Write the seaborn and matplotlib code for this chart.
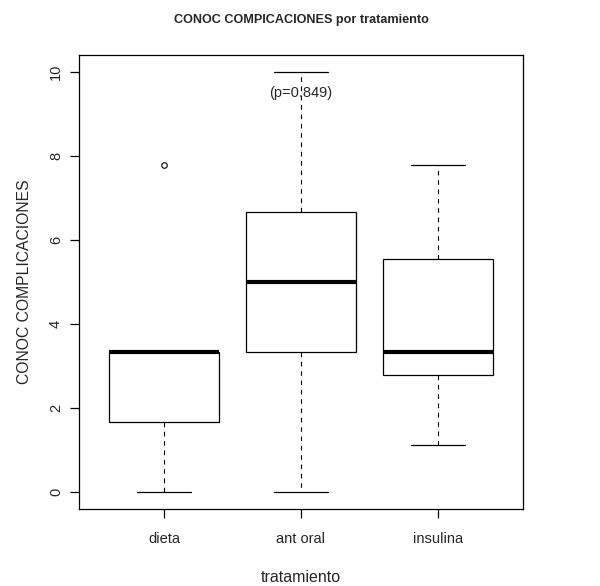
import matplotlib
matplotlib.use("Agg")
import matplotlib.pyplot as plt
import pandas as pd
import seaborn as sns

tratamientos = ["dieta", "ant oral", "insulina"]
dieta = [0.0, 1.667, 1.667, 3.333, 3.333, 3.333, 3.333, 7.778]
ant_oral = [0.0, 1.667, 3.333, 4.444, 5.0, 5.556, 6.667, 8.333, 10.0]
insulina = [1.111, 2.222, 2.778, 3.333, 3.333, 4.444, 5.556, 6.667, 7.778]
y_ticks = [0, 2, 4, 6, 8, 10]
p_valor = 0.849

df = pd.DataFrame({
    "tratamiento": ["dieta"] * len(dieta) + ["ant oral"] * len(ant_oral) + ["insulina"] * len(insulina),
    "conoc": dieta + ant_oral + insulina,
})

sns.set_style("ticks")
plt.rcParams["font.family"] = ["Liberation Sans", "DejaVu Sans"]
plt.rcParams["axes.linewidth"] = 0.9

fig = plt.figure(figsize=(6.0, 5.86), dpi=100)
ax = fig.add_axes([79 / 600, 1 - 509 / 586, 444 / 600, 454 / 586])

sns.boxplot(
    data=df, x="tratamiento", y="conoc", order=tratamientos, ax=ax,
    width=0.8, whis=1.5, color="white", linecolor="black", linewidth=0.9,
    medianprops={"linewidth": 3.0, "color": "black"},
    whiskerprops={"linestyle": (0, (4.2, 4.2)), "linewidth": 0.8},
    flierprops={"marker": "o", "markersize": 4, "markerfacecolor": "none",
                "markeredgecolor": "black", "markeredgewidth": 0.8},
)

ax.text(1, 9.5, f"(p={p_valor})", ha="center", va="center", fontsize=10.5)

ax.set_xlim(-0.62, 2.62)
ax.set_ylim(-0.4, 10.4)
ax.set_yticks(y_ticks)
ax.set_yticklabels([str(t) for t in y_ticks])
for s in ax.spines.values():
    s.set_visible(True)
    s.set_color("black")
ax.tick_params(axis="both", direction="out", length=6.5, width=0.9, color="black",
               labelsize=10.5)
ax.tick_params(axis="x", pad=10)
ax.tick_params(axis="y", labelrotation=90, pad=5)
for lab in ax.get_yticklabels():
    lab.set_va("center")

ax.set_xlabel("tratamiento", fontsize=11.5, labelpad=17)
ax.set_ylabel("CONOC COMPLICACIONES", fontsize=11.3, labelpad=12)
ax.set_title("CONOC COMPICACIONES por tratamiento", fontsize=9.1, fontweight="bold", pad=23)

fig.savefig("out.png", dpi=100, facecolor="white")
